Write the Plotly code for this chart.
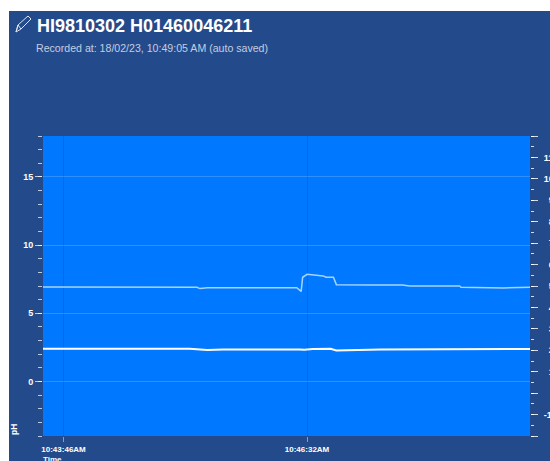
import plotly.graph_objects as go

DAY = "2023-02-18 "
ph_times = ["10:43:32", "10:45:17", "10:45:19", "10:45:24", "10:46:25", "10:46:28", "10:46:29", "10:46:32",
            "10:46:43", "10:46:45", "10:46:50", "10:46:52", "10:47:15", "10:47:37", "10:47:42", "10:48:16",
            "10:48:17", "10:48:46", "10:49:04"]
ph_values = [6.93, 6.91, 6.81, 6.88, 6.88, 6.61, 7.64, 7.86, 7.74, 7.64, 7.64, 7.10, 7.08, 7.08, 7.00, 7.00,
             6.91, 6.86, 6.91]
temp_times = ["10:43:32", "10:45:12", "10:45:24", "10:45:35", "10:46:27", "10:46:30", "10:46:36", "10:46:48",
              "10:46:52", "10:47:15", "10:47:22", "10:49:04"]
temp_values = [2.07, 2.07, 2.01, 2.04, 2.04, 2.03, 2.06, 2.07, 1.99, 2.02, 2.04, 2.06]
x_ticks = ["10:43:46", "10:46:32"]
x_labels = ["10:43:46AM", "10:46:32AM"]
left_ticks = [0, 5, 10, 15]
right_all = [-2, -1, 0, 1, 2, 3, 4, 5, 6, 7, 8, 9, 10, 11, 12]
right_labels = ["\u2007" * (2 - len(str(v))) + str(v) if v >= 0 else str(v) for v in right_all]
right_labels = ["" if v in (-2, 0, 12) else s for v, s in zip(right_all, right_labels)]

TITLE = "HI9810302 H01460046211"
SUBTITLE = "Recorded at: 18/02/23, 10:49:05 AM (auto saved)"

W, H = 550, 461
L, R, T, B = 43, 530, 136, 436
NAVY, BLUE = "#234b8c", "#0078ff"
FONT = "Liberation Sans"

def px(x):
    return (x - L) / (R - L)

def py(y):
    return (B - y) / (B - T)

fig = go.Figure()
fig.add_trace(go.Scatter(x=[DAY + t for t in ph_times], y=ph_values, mode="lines", yaxis="y",
                         line=dict(color="#a8d4ff", width=1.5), hoverinfo="skip"))
fig.add_trace(go.Scatter(x=[DAY + t for t in temp_times], y=temp_values, mode="lines", yaxis="y2",
                         line=dict(color="#ffffff", width=2), hoverinfo="skip"))

pencil = [(16, 32), (18, 25), (28, 16), (31, 19), (21, 29), (16, 32), (18, 25), (21, 29)]
pencil_path = "M" + " L".join(f"{px(a):.4f},{py(b):.4f}" for a, b in pencil)

fig.update_layout(
    template="none",
    width=W, height=H, autosize=False, showlegend=False,
    paper_bgcolor="#ffffff", plot_bgcolor=BLUE,
    margin=dict(l=L, r=W - R, t=T, b=H - B, pad=0),
    font=dict(family=FONT, color="#ffffff", size=9),
    xaxis=dict(type="date", range=[DAY + "10:43:32", DAY + "10:49:04"], automargin=False,
               tickmode="array", tickvals=[DAY + t for t in x_ticks], ticktext=x_labels,
               tickfont=dict(family=FONT, size=8, color="#ffffff", weight="bold"),
               ticks="outside", ticklen=5, tickcolor="rgba(255,255,255,0.45)", tickwidth=1,
               showgrid=True, gridcolor="rgba(0,50,130,0.18)", gridwidth=1,
               zeroline=False, showline=False, ticklabelstandoff=0),
    yaxis=dict(range=[-4, 18], tickmode="array", tickvals=left_ticks, automargin=False,
               tickfont=dict(family=FONT, size=9, color="#ffffff", weight="bold"),
               ticks="outside", ticklen=7, tickcolor="rgba(255,255,255,0.7)", tickwidth=1,
               minor=dict(dtick=1, tick0=0, ticks="outside", ticklen=4, tickcolor="rgba(255,255,255,0.7)",
                          tickwidth=1, showgrid=False),
               showgrid=True, gridcolor="rgba(255,255,255,0.18)", gridwidth=1,
               zeroline=False, showline=False),
    yaxis2=dict(range=[-2, 12], overlaying="y", side="right", tickmode="array", automargin=False,
                tickvals=right_all, ticktext=right_labels, ticklabelstandoff=4,
                tickfont=dict(family=FONT, size=9, color="#ffffff", weight="bold"),
                ticks="outside", ticklen=7, tickcolor="rgba(255,255,255,0.8)", tickwidth=1,
                minor=dict(dtick=0.5, tick0=0, ticks="outside", ticklen=3, tickcolor="rgba(255,255,255,0.8)",
                           tickwidth=1, showgrid=False),
                showgrid=False, zeroline=False, showline=False),
    shapes=[
        dict(type="rect", xref="paper", yref="paper", x0=px(9), x1=px(W), y0=py(H), y1=py(11),
             fillcolor=NAVY, line_width=0, layer="below"),
        dict(type="rect", xref="paper", yref="paper", x0=0, x1=1, y0=0, y1=1,
             fillcolor=BLUE, line_width=0, layer="below"),
        dict(type="path", xref="paper", yref="paper", path=pencil_path, line=dict(color="#dfe6f2", width=1),
             fillcolor="rgba(0,0,0,0)"),
    ],
    annotations=[
        dict(text=f"<b>{TITLE}</b>", xref="paper", yref="paper", x=px(34.5), y=py(26), xanchor="left", yanchor="middle",
             showarrow=False, font=dict(family=FONT, size=18, color="#ffffff")),
        dict(text=SUBTITLE, xref="paper", yref="paper", x=px(34), y=py(47.5), xanchor="left", yanchor="middle",
             showarrow=False, font=dict(family=FONT, size=10.6, color="#c3cde0")),
        dict(text="<b>Time</b>", xref="paper", yref="paper", x=px(41), y=py(459), xanchor="left", yanchor="middle",
             showarrow=False, font=dict(family=FONT, size=8, color="#ffffff")),
        dict(text="<b>pH</b>", xref="paper", yref="paper", x=px(14), y=py(430), xanchor="center", yanchor="middle",
             textangle=-90, showarrow=False, font=dict(family=FONT, size=8.5, color="#ffffff")),
    ],
)

fig.write_html("out.html", config={"displayModeBar": False},
               post_script="document.body.style.margin='0';document.body.style.overflow='hidden';")
